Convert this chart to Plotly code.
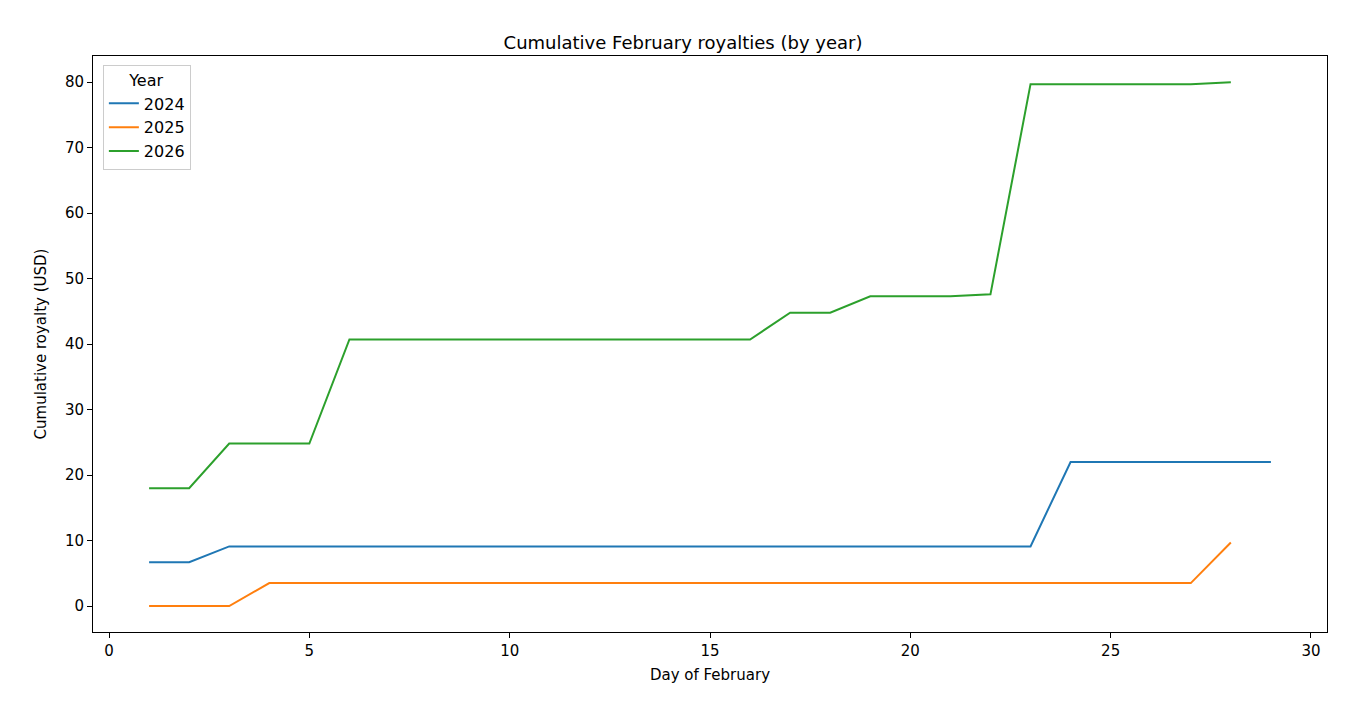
import plotly.graph_objects as go

days_2024 = list(range(1, 30))
vals_2024 = [6.7, 6.7] + [9.1] * 21 + [22.0] * 6
days_2025 = list(range(1, 29))
vals_2025 = [0, 0, 0] + [3.5] * 24 + [9.7]
days_2026 = list(range(1, 29))
vals_2026 = ([18.0, 18.0] + [24.8] * 3 + [40.7] * 11 + [44.8] * 2 + [47.3] * 3
             + [47.6] + [79.7] * 5 + [80.0])

series = [("2024", days_2024, vals_2024, "#1f77b4"),
          ("2025", days_2025, vals_2025, "#ff7f0e"),
          ("2026", days_2026, vals_2026, "#2ca02c")]

fig = go.Figure()
for name, x, y, c in series:
    fig.add_trace(go.Scatter(x=x, y=y, mode="lines", name=name,
                             line=dict(color=c, width=2)))

ax = dict(showgrid=False, zeroline=False, showline=True, linecolor="black",
          mirror=True, ticks="outside", ticklen=5, tickcolor="black",
          tickfont=dict(size=15, color="black"))
fig.update_layout(
    width=1350, height=720, plot_bgcolor="white", paper_bgcolor="white",
    font=dict(family="DejaVu Sans", color="black"),
    margin=dict(l=85, r=31, t=48, b=96),
    title=dict(text="Cumulative February royalties (by year)", x=0.5, xanchor="center",
               y=0.952, yanchor="middle", font=dict(size=18)),
    xaxis=dict(ax, range=[-0.4, 30.4], tickvals=[0, 5, 10, 15, 20, 25, 30],
               title=dict(text="Day of February", font=dict(size=15), standoff=10)),
    yaxis=dict(ax, range=[-3.97, 84.0], tickvals=[0, 10, 20, 30, 40, 50, 60, 70, 80],
               title=dict(text="Cumulative royalty (USD)", font=dict(size=15), standoff=14)),
    legend=dict(x=0.008, y=0.985, xanchor="left", yanchor="top",
                title=dict(text="Year", side="top center", font=dict(size=16)),
                font=dict(size=16), bordercolor="#cccccc", borderwidth=1,
                bgcolor="white"),
)
fig.write_html("out.html")
